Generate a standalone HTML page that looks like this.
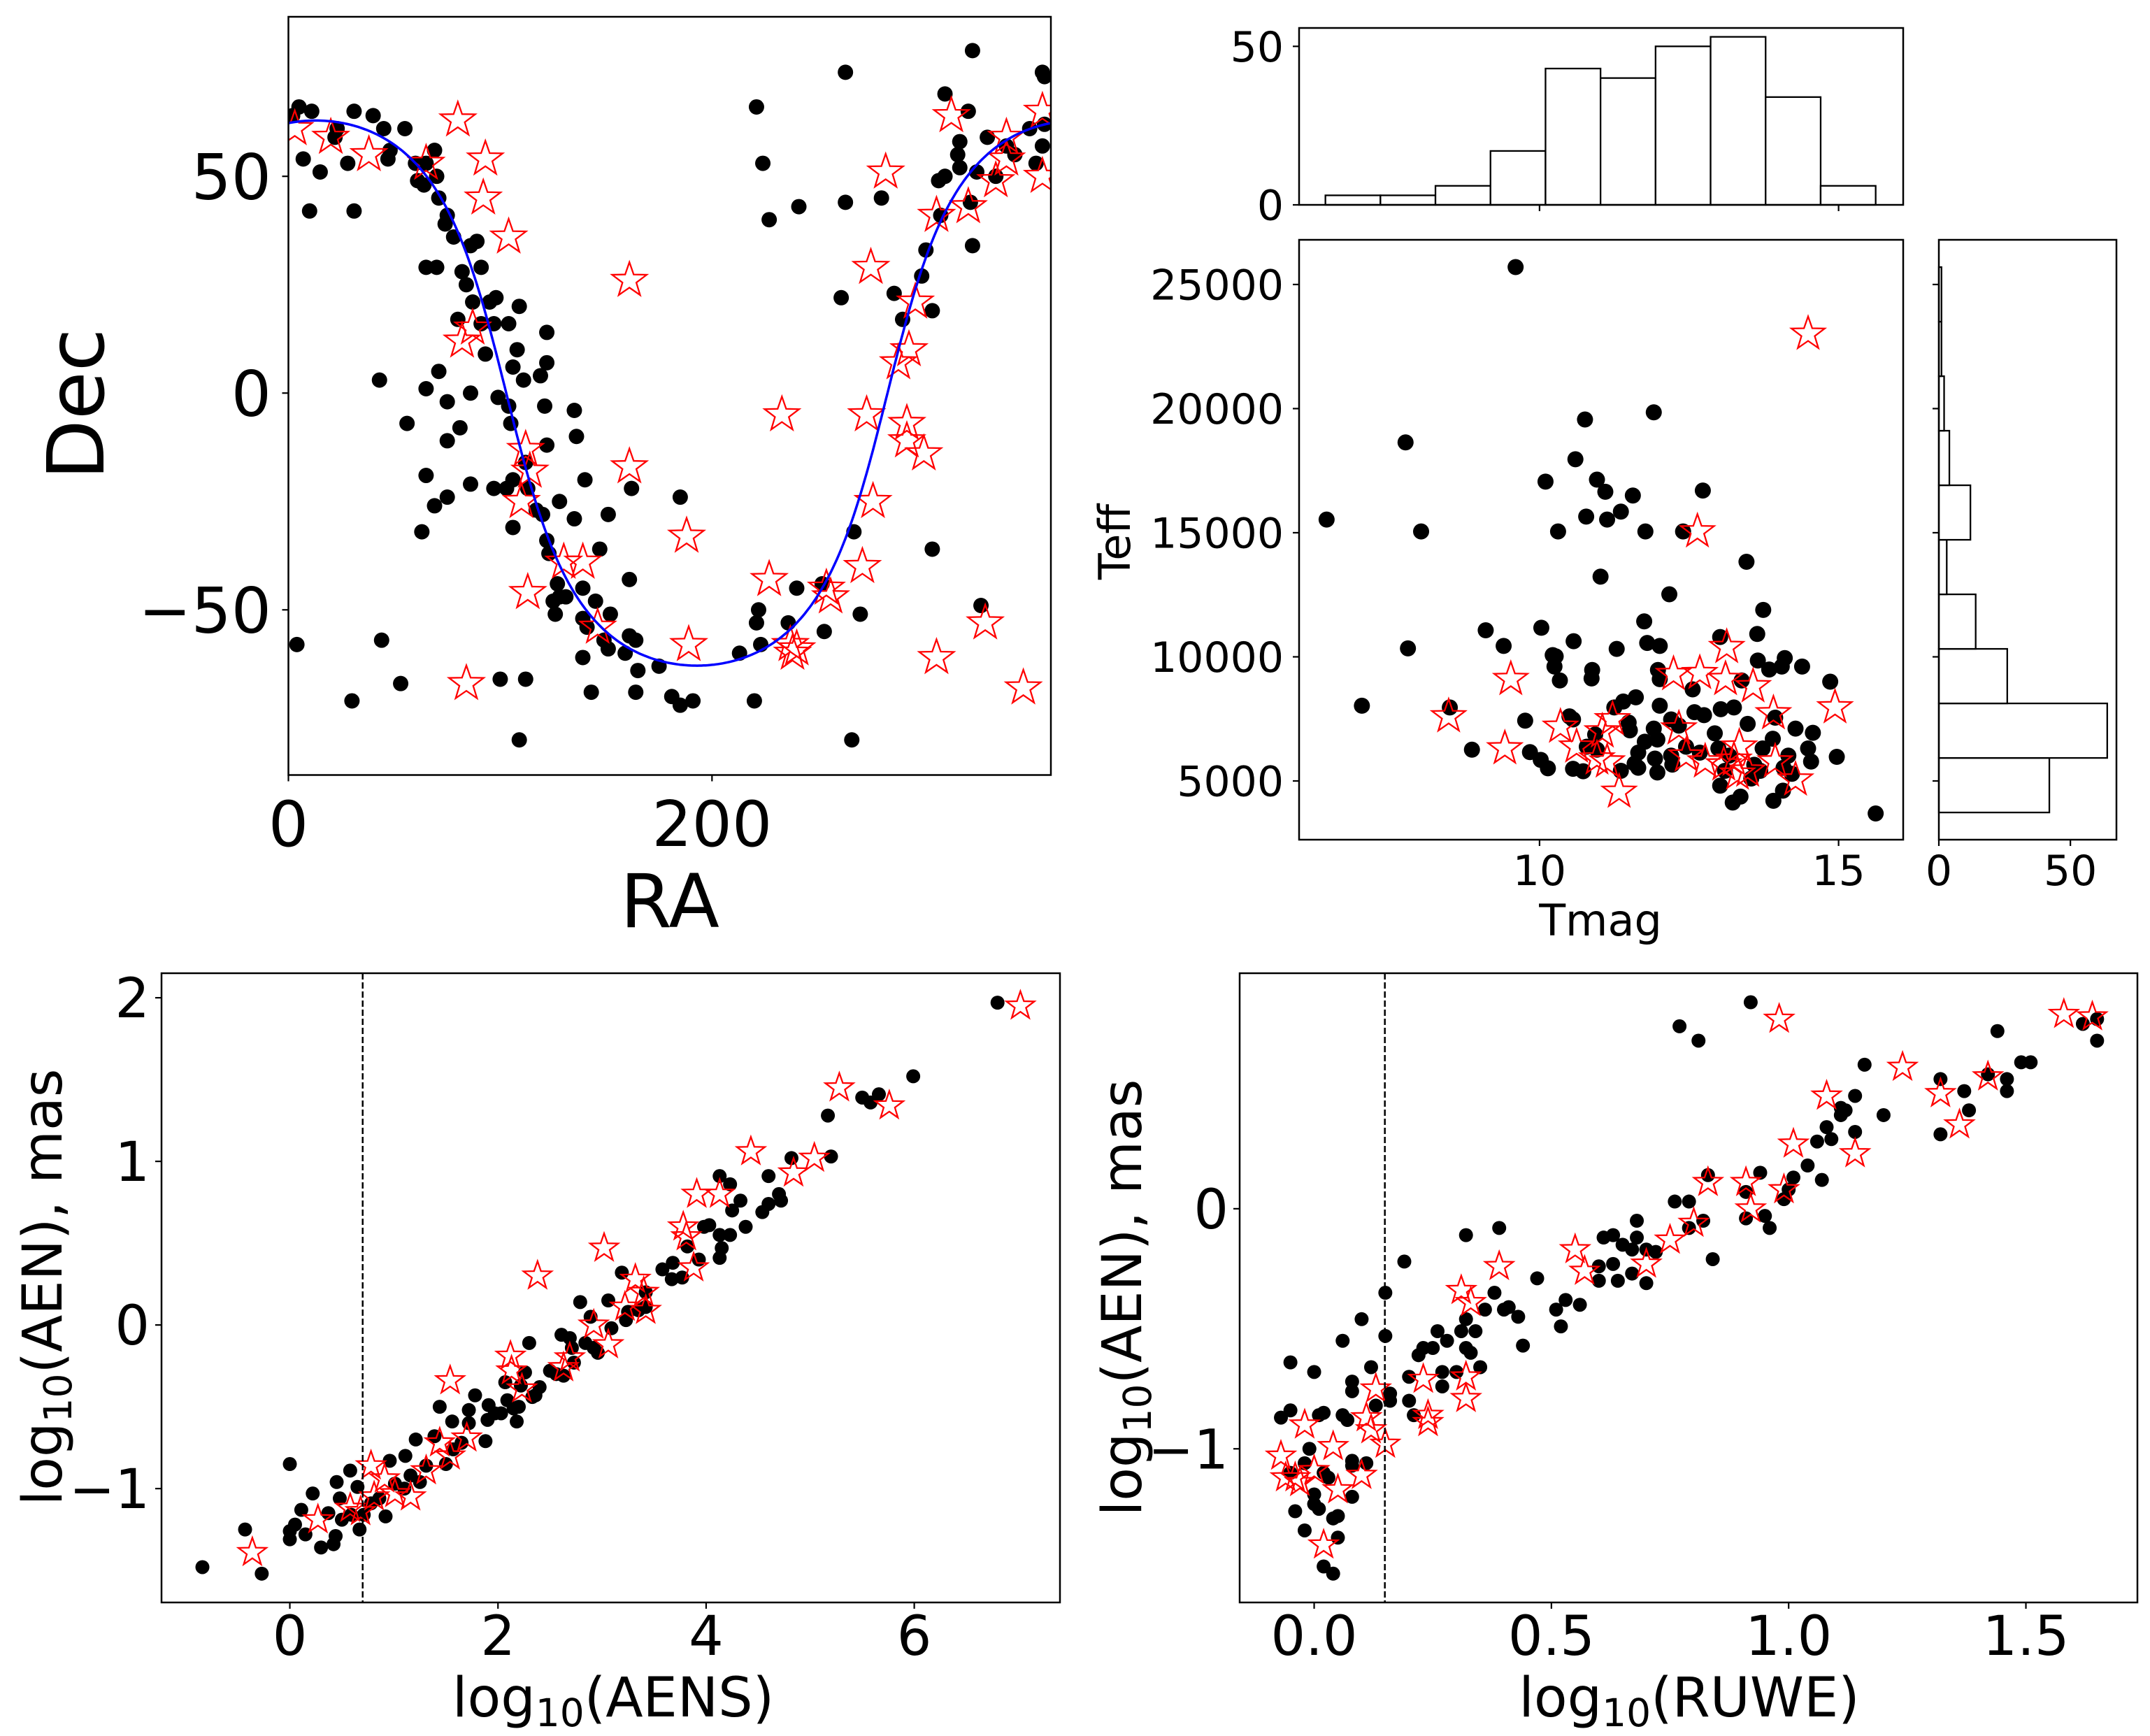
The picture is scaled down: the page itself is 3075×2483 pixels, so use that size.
<!DOCTYPE html>
<html><head><meta charset="utf-8"><style>
html,body{margin:0;padding:0;background:#fff;}
svg{display:block;font-family:"DejaVu Sans","Liberation Sans",sans-serif;}
</style></head>
<body>
<svg id="chart" width="3075" height="2483" viewBox="0 0 3075 2483" xmlns="http://www.w3.org/2000/svg">
<rect x="0" y="0" width="3075" height="2483" fill="#fff"/>
</svg>
<script>
// ---------- Panel 1: RA / Dec ----------
const p1BlackRA=[5,2,11,7,10,15,23,22,28,31,31,40,45,47,48,55,60,61,64,65,69,70,71,74,75,78,65,70,82,84,86,89,91,87,95,98,80,91,97,104,109,93,108,106,111,122,119,122,71,65,86,75,99,104,105,81,75,121,122,135,136,56,43,65,86,69,75,97,103,106,112,113,117,120,106,63,128,135,140,162,151,122,123,147,127,128,131,125,126,139,145,161,139,141,152,149,151,159,161,164,165,175,139,143,164,181,185,191,213,220,223,221,222,236,240,252,253,270,267,266,185,221,224,227,241,263,263,280,261,286,290,299,301,304,307,310,308,316,317,317,321,310,323,323,322,325,330,334,339,343,350,353,356,356,357,357,304,327,4,30,44,53,100,112,109];
const p1BlackDec=[66,64,65,54,42,51,61,59,53,65,42,64,61,54,56,61,53,49,48,53,56,50,45,39,41,36,29,29,28,25,34,35,29,21,21,22,17,16,16,16,20,9,10,6,3,7,4,14,5,1,0,-2,-1,-3,-7,-8,-11,-3,-12,-4,-10,-7,3,-19,-21,-26,-24,-22,-22,-20,-16,-22,-27,-28,-31,-32,-25,-29,-20,-22,-28,-34,-37,-36,-44,-47,-47,-48,-51,-45,-48,-43,-52,-54,-51,-57,-59,-60,-56,-57,-64,-63,-61,-69,-69,-70,-72,-71,-60,-71,-58,-53,-50,-53,-45,-44,-55,-51,-32,-80,-24,66,53,40,43,74,44,45,22,23,17,27,33,19,49,50,41,55,58,52,65,69,79,34,44,51,59,50,57,55,61,53,57,74,73,62,-36,-49,-58,-71,-57,-67,-66,-66,-80];
const p1StarRA=[3,20,38,65,80,93,92,104,161,87,82,112,114,110,113,84,130,139,146,161,188,189,233,227,237,240,238,254,256,271,276,273,275,282,296,293,288,292,292,300,306,313,321,334,339,339,356,356,306,329,347];
const p1StarDec=[61,59,55,53,63,54,45,36,26,15,12,-13,-18,-25,-46,-67,-39,-39,-54,-17,-33,-58,-5,-43,-58,-59,-60,-45,-47,-40,-25,-5,29,51,21,10,7,-7,-11,-14,41,64,43,49,59,54,65,50,-61,-53,-68];
const p1XTicks=[0,200];
const p1YTicks=[-50,0,50];
const galPoleRA=192.86, galPoleDec=27.13;

// ---------- Panel 2: Tmag / Teff ----------
const p2BlackTmag=[9.6,6.44,7.03,7.76,8.02,7.8,8.5,8.87,9.1,9.4,9.76,9.84,10.02,10.14,10.03,10.1,10.31,10.22,10.27,10.25,10.34,10.57,10.6,10.76,10.78,10.96,11.1,11.13,11.36,11.56,11.02,10.88,10.87,11.29,10.56,10.56,10.73,10.79,10.93,11.25,11.4,11.61,11.49,11.51,11.65,11.59,11.76,11.91,11.97,11.97,11.93,12.01,11.77,11.91,11.75,11.8,12.01,12.17,11.98,12.01,12.2,12.33,12.2,12.4,12.73,12.56,12.59,12.75,12.68,12.93,12.99,13.03,13.25,13.02,13.46,13.74,13.64,13.65,13.84,14.05,14.1,14.39,13.38,13.48,13.9,13.94,14.28,14.57,14.49,14.54,14.16,14.08,13.73,13.59,13.54,13.36,13.23,13.91,14.07,13.02,13.1,14.86,14.97,15.62,10.5,12.22,12.45,13.17,13.69,14.22,11.36,11.65,10.96];
const p2BlackTeff=[25700,15530,8030,18640,15050,10340,7960,6260,11070,10440,7430,6160,5850,5510,11170,17060,15050,10070,10020,9610,9050,10630,17960,19560,15650,17140,16650,15530,15850,16500,13230,9470,9130,10320,7480,5490,5390,6380,6870,7960,8200,8370,7350,7040,6140,5700,6580,7110,6670,5340,5900,8030,15050,19850,11430,10560,10440,12520,9470,9100,7480,7230,6020,15050,16700,8690,7770,7650,6140,6920,6310,7890,7960,10800,13830,11890,10920,9850,9490,9610,9950,9610,9050,7300,6700,7550,7110,6940,6310,5780,6020,5530,6310,5650,5100,4370,4130,4200,4610,4810,5410,9000,5970,3690,7600,5660,6380,6020,5410,5290,5410,5530,6260];
const p2StarTmag=[14.49,12.64,13.13,9.52,8.48,9.42,10.35,10.62,11.05,11.22,10.96,11.13,11.33,12.24,12.68,13.11,13.57,12.33,12.45,12.77,13.08,13.25,13.34,13.31,13.48,13.91,13.94,14.28,14.94];
const p2StarTeff=[23010,15050,10390,9100,7600,6310,7180,6380,6990,7480,5900,5780,4560,9300,9340,9100,8810,7110,6020,5780,5660,5850,6380,5290,5410,7720,5780,5050,7960];
const p2XTicks=[10,15];
const p2YTicks=[5000,10000,15000,20000,25000];
const tmagBinStart=6.42, tmagBinWidth=0.92;
const tmagCounts=[3,3,6,17,43,40,50,53,34,6];
const teffBinStart=3730, teffBinWidth=2197;
const teffCounts=[42,64,26,14,3,12,4,2,1,1];
const histTopYTicks=[0,50];
const histRightXTicks=[0,50];

// ---------- Panel 3: AENS / AEN ----------
const p3BlackX=[-0.84,-0.27,-0.43,0,0,0,0.05,0.15,0.11,0.22,0.3,0.42,0.44,0.45,0.48,0.37,0.5,0.58,0.59,0.65,0.67,0.71,0.78,0.86,0.92,0.96,1.01,1.1,1.11,1.16,1.21,1.25,1.31,1.39,1.44,1.5,1.56,1.57,1.65,1.72,1.72,1.78,1.88,1.91,1.9,1.97,2.03,2.09,2.07,2.15,2.18,2.2,2.22,2.26,2.3,2.33,2.36,2.4,2.5,2.56,2.61,2.63,2.69,2.71,2.73,2.79,2.84,2.89,2.92,2.96,3.06,3.09,3.19,3.23,3.25,3.35,3.42,3.42,3.58,3.67,3.68,3.77,3.82,3.93,3.98,4.03,4.13,4.15,4.13,4.23,4.13,4.23,4.25,4.33,4.38,4.54,4.6,4.6,4.7,4.72,4.82,5.17,5.2,5.5,5.58,5.66,5.99,6.8];
const p3BlackY=[-1.48,-1.52,-1.25,-0.85,-1.26,-1.31,-1.22,-1.28,-1.13,-1.03,-1.36,-1.34,-1.29,-0.96,-1.06,-1.15,-1.19,-0.89,-1.16,-0.99,-1.25,-1.16,-1.09,-1.06,-1.17,-0.83,-0.97,-1.0,-0.8,-0.92,-0.7,-0.96,-0.86,-0.68,-0.5,-0.85,-0.59,-0.76,-0.72,-0.52,-0.6,-0.43,-0.71,-0.49,-0.58,-0.54,-0.54,-0.46,-0.35,-0.51,-0.59,-0.5,-0.37,-0.29,-0.11,-0.44,-0.43,-0.38,-0.28,-0.3,-0.06,-0.31,-0.08,-0.14,-0.23,0.14,-0.11,0.05,-0.14,-0.17,0.15,-0.02,0.32,0.03,0.08,0.09,0.2,0.11,0.34,0.28,0.38,0.29,0.48,0.4,0.6,0.61,0.55,0.47,0.41,0.55,0.91,0.86,0.7,0.76,0.6,0.69,0.74,0.91,0.8,0.76,1.02,1.28,1.03,1.39,1.36,1.41,1.52,1.97];
const p3StarX=[-0.36,0.27,0.58,0.68,0.78,0.81,0.91,1.01,1.16,1.31,1.44,1.54,1.7,1.54,2.12,2.13,2.23,2.38,2.63,2.69,3.02,2.92,3.06,3.22,3.32,3.4,3.42,3.78,3.81,3.88,3.91,4.13,4.43,4.84,5.04,5.28,5.76,7.02];
const p3StarY=[-1.39,-1.19,-1.12,-1.14,-0.86,-1.05,-0.94,-1.03,-1.05,-0.89,-0.72,-0.8,-0.69,-0.34,-0.19,-0.28,-0.39,0.3,-0.26,-0.2,0.47,0,-0.12,0.11,0.28,0.2,0.09,0.6,0.54,0.35,0.8,0.8,1.06,0.93,1.02,1.45,1.34,1.95];
const p3XTicks=[0,2,4,6];
const p3YTicks=[-1,0,1,2];
const p3Threshold=0.70;

// ---------- Panel 4: RUWE / AEN ----------
const p4BlackX=[-0.07,-0.05,-0.05,-0.05,-0.04,-0.02,0,0,0,0.01,0.01,0.02,0.02,0.04,0.05,0.04,0.05,0.03,-0.01,-0.02,0.02,0.06,0.06,0.07,0.08,0.08,0.08,0.08,0.08,0.1,0.11,0.12,0.13,0.15,0.15,0.16,0.16,0.19,0.2,0.2,0.21,0.22,0.23,0.25,0.26,0.28,0.27,0.27,0.3,0.31,0.32,0.32,0.32,0.33,0.34,0.35,0.36,0.38,0.39,0.4,0.41,0.43,0.44,0.47,0.51,0.52,0.53,0.56,0.6,0.6,0.61,0.63,0.63,0.64,0.65,0.67,0.67,0.68,0.68,0.7,0.7,0.72,0.76,0.79,0.79,0.82,0.84,0.77,0.81,0.92,0.83,0.91,0.91,0.94,0.95,0.96,0.99,1.0,1.01,1.04,1.07,1.06,1.08,1.09,1.11,1.11,1.12,1.14,1.14,1.16,1.2,1.32,1.32,1.37,1.38,1.42,1.44,1.46,1.46,1.49,1.51,1.62,1.65,1.65];
const p4BlackY=[-0.87,-0.64,-0.84,-1.1,-1.26,-1.34,-1.19,-0.68,-1.23,-1.25,-0.86,-0.85,-1.49,-1.52,-1.37,-1.29,-1.28,-1.12,-1.0,-1.06,-1.1,-0.55,-0.86,-0.88,-1.07,-1.2,-1.05,-0.72,-0.76,-0.46,-1.06,-0.66,-0.82,-0.35,-0.53,-0.77,-0.8,-0.22,-0.7,-0.8,-0.86,-0.61,-0.58,-0.58,-0.51,-0.55,-0.68,-0.74,-0.68,-0.51,-0.11,-0.58,-0.46,-0.6,-0.51,-0.66,-0.42,-0.35,-0.08,-0.42,-0.41,-0.45,-0.57,-0.29,-0.42,-0.49,-0.38,-0.4,-0.24,-0.3,-0.12,-0.23,-0.11,-0.3,-0.15,-0.17,-0.27,-0.05,-0.12,-0.17,-0.31,-0.18,0.03,0.03,-0.08,-0.05,-0.21,0.76,0.7,0.86,0.14,0.07,-0.04,0.15,-0.03,-0.08,0.04,0.08,0.13,0.18,0.12,0.28,0.34,0.29,0.42,0.39,0.41,0.47,0.32,0.6,0.39,0.54,0.31,0.49,0.41,0.56,0.74,0.54,0.49,0.61,0.61,0.77,0.79,0.7];
const p4StarX=[-0.07,-0.06,-0.04,-0.02,-0.03,0,0.02,0.04,0.05,0.1,0.11,0.12,0.13,0.15,0.23,0.24,0.24,0.31,0.33,0.32,0.32,0.39,0.55,0.57,0.7,0.75,0.8,0.83,0.91,0.92,0.99,1.01,0.98,1.08,1.14,1.24,1.32,1.36,1.42,1.58,1.64];
const p4StarY=[-1.03,-1.12,-1.12,-0.9,-1.14,-1.09,-1.4,-0.99,-1.17,-1.11,-0.87,-0.92,-0.75,-0.98,-0.71,-0.86,-0.89,-0.34,-0.39,-0.7,-0.79,-0.24,-0.17,-0.26,-0.23,-0.13,-0.06,0.11,0.11,0,0.08,0.27,0.79,0.47,0.23,0.59,0.48,0.35,0.55,0.81,0.8];
const p4XTicks=[0,0.5,1.0,1.5];
const p4XTickLabels=["0.0","0.5","1.0","1.5"];
const p4YTicks=[-1,0];
const p4Threshold=0.149;

// ---------- helpers ----------
const NS="http://www.w3.org/2000/svg";
const svg=document.getElementById('chart');
function mk(tag,parent){const e=document.createElementNS(NS,tag);(parent||svg).appendChild(e);return e;}
function axis(px0,px1,py0,py1,xmin,xmax,ymin,ymax){
  return {x:v=>px0+(v-xmin)/(xmax-xmin)*(px1-px0), y:v=>py1-(v-ymin)/(ymax-ymin)*(py1-py0), px0,px1,py0,py1};
}
function fmt(v){return (v<0?"\u2212":"")+Math.abs(v);}
function frame(ax,g){
  const r=mk('rect',g);
  
  
  r.setAttribute('x',ax.px0);r.setAttribute('y',ax.py0);
  r.setAttribute('width',ax.px1-ax.px0);r.setAttribute('height',ax.py1-ax.py0);
  r.setAttribute('fill','none');r.setAttribute('stroke','#000');r.setAttribute('stroke-width','2.5');
}
function xTicks(ax,g,vals,labels,fs,baseline){
  vals.forEach((v,i)=>{
    const X=ax.x(v);
    const t=mk('line',g);
    
    
    t.setAttribute('x1',X);t.setAttribute('x2',X);t.setAttribute('y1',ax.py1);t.setAttribute('y2',ax.py1+9);
    t.setAttribute('stroke','#000');t.setAttribute('stroke-width','2.2');
    if(labels){
      const s=mk('text',g);
      
      
      s.setAttribute('x',X);s.setAttribute('y',baseline);s.setAttribute('text-anchor','middle');s.setAttribute('font-size',fs);
      s.textContent=labels[i];
    }
  });
}
function yTicks(ax,g,vals,labels,fs,rightEdge){
  vals.forEach((v,i)=>{
    const Y=ax.y(v);
    const t=mk('line',g);
    
    
    t.setAttribute('x1',ax.px0-9);t.setAttribute('x2',ax.px0);t.setAttribute('y1',Y);t.setAttribute('y2',Y);
    t.setAttribute('stroke','#000');t.setAttribute('stroke-width','2.2');
    if(labels){
      const s=mk('text',g);
      
      
      s.setAttribute('x',rightEdge);s.setAttribute('y',Y+fs*0.36);s.setAttribute('text-anchor','end');s.setAttribute('font-size',fs);
      s.textContent=labels[i];
    }
  });
}
function dots(ax,g,xs,ys,r){
  xs.forEach((v,i)=>{
    const c=mk('circle',g);
    
    
    c.setAttribute('cx',ax.x(v));c.setAttribute('cy',ax.y(ys[i]));c.setAttribute('r',r);c.setAttribute('fill','#000');
  });
}
function starPts(cx,cy,R){
  const ri=R*0.4;let p=[];
  for(let k=0;k<10;k++){const a=-Math.PI/2+k*Math.PI/5;const rr=k%2?ri:R;p.push((cx+rr*Math.cos(a)).toFixed(1)+','+(cy+rr*Math.sin(a)).toFixed(1));}
  return p.join(' ');
}
function stars(ax,g,xs,ys,R){
  xs.forEach((v,i)=>{
    const s=mk('polygon',g);
    
    
    s.setAttribute('points',starPts(ax.x(v),ax.y(ys[i]),R));
    s.setAttribute('fill','none');s.setAttribute('stroke','#ff0000');s.setAttribute('stroke-width','2.3');s.setAttribute('stroke-linejoin','miter');
  });
}
function clip(ax,id){
  const cp=mk('clipPath');cp.setAttribute('id',id);
  const r=mk('rect',cp);r.setAttribute('x',ax.px0);r.setAttribute('y',ax.py0);r.setAttribute('width',ax.px1-ax.px0);r.setAttribute('height',ax.py1-ax.py0);
}

// ---------- Panel 1 ----------
const g1=mk('g');


const a1=axis(412.5,1503,24,1108.5,0,360,-88.1,86.8);
clip(a1,'c1');
const g1d=mk('g',g1);g1d.setAttribute('clip-path','url(#c1)');
dots(a1,g1d,p1BlackRA,p1BlackDec,11);
stars(a1,g1d,p1StarRA,p1StarDec,26);
(function(){
  let d='';
  for(let ra=0;ra<=360;ra+=1){
    const dec=Math.atan(-Math.cos((ra-galPoleRA)*Math.PI/180)/Math.tan(galPoleDec*Math.PI/180))*180/Math.PI;
    d+=(ra?'L':'M')+a1.x(ra).toFixed(1)+','+a1.y(dec).toFixed(1);
  }
  const p=mk('path',g1d);
  
  
  p.setAttribute('d',d);p.setAttribute('fill','none');p.setAttribute('stroke','#0000ff');p.setAttribute('stroke-width','3.5');
})();
frame(a1,g1);
xTicks(a1,g1,p1XTicks,p1XTicks.map(fmt),90,1210);
yTicks(a1,g1,p1YTicks,p1YTicks.map(fmt),90,388);
// ---------- Panel 2 ----------
const g2=mk('g');


const a2=axis(1858,2722,343,1201,5.98,16.08,2634,26800);
clip(a2,'c2');
const g2d=mk('g',g2);g2d.setAttribute('clip-path','url(#c2)');
dots(a2,g2d,p2BlackTmag,p2BlackTeff,11.5);
stars(a2,g2d,p2StarTmag,p2StarTeff,25);
frame(a2,g2);
xTicks(a2,g2,p2XTicks,p2XTicks.map(String),60,1266);
yTicks(a2,g2,p2YTicks,p2YTicks.map(String),60,1836);
// top histogram
const g2t=mk('g');


const a2t=axis(1858,2722,40,293,5.98,16.08,0,55.8);
tmagCounts.forEach((c,i)=>{
  const x0=a2t.x(tmagBinStart+i*tmagBinWidth),x1=a2t.x(tmagBinStart+(i+1)*tmagBinWidth);
  const r=mk('rect',g2t);
  
  
  r.setAttribute('x',x0);r.setAttribute('y',a2t.y(c));r.setAttribute('width',x1-x0);r.setAttribute('height',a2t.y(0)-a2t.y(c));
  r.setAttribute('fill','#fff');r.setAttribute('stroke','#000');r.setAttribute('stroke-width','2.3');
});
frame(a2t,g2t);
xTicks(a2t,g2t,p2XTicks,null);
yTicks(a2t,g2t,histTopYTicks,histTopYTicks.map(String),60,1836);
// right histogram
const g2r=mk('g');


const a2r=axis(2773,3027,343,1201,0,67.5,2634,26800);
teffCounts.forEach((c,i)=>{
  const y0=a2r.y(teffBinStart+(i+1)*teffBinWidth),y1=a2r.y(teffBinStart+i*teffBinWidth);
  const r=mk('rect',g2r);
  
  
  r.setAttribute('x',a2r.x(0));r.setAttribute('y',y0);r.setAttribute('width',a2r.x(c)-a2r.x(0));r.setAttribute('height',y1-y0);
  r.setAttribute('fill','#fff');r.setAttribute('stroke','#000');r.setAttribute('stroke-width','2.3');
});
frame(a2r,g2r);
xTicks(a2r,g2r,histRightXTicks,histRightXTicks.map(String),60,1266);
yTicks(a2r,g2r,p2YTicks,null);
// ---------- Panel 3 ----------
const g3=mk('g');


const a3=axis(231,1516,1392,2292,-1.233,7.40,-1.696,2.15);
clip(a3,'c3');
const g3d=mk('g',g3);g3d.setAttribute('clip-path','url(#c3)');
dots(a3,g3d,p3BlackX,p3BlackY,10);
stars(a3,g3d,p3StarX,p3StarY,21);
const v3=mk('line',g3d);


v3.setAttribute('x1',a3.x(p3Threshold));v3.setAttribute('x2',a3.x(p3Threshold));v3.setAttribute('y1',1392);v3.setAttribute('y2',2292);
v3.setAttribute('stroke','#000');v3.setAttribute('stroke-width','2.5');v3.setAttribute('stroke-dasharray','9,4');
frame(a3,g3);
xTicks(a3,g3,p3XTicks,p3XTicks.map(fmt),78,2367);
yTicks(a3,g3,p3YTicks,p3YTicks.map(fmt),78,214);
// ---------- Panel 4 ----------
const g4=mk('g');


const a4=axis(1773,3057,1392,2292,-0.157,1.735,-1.64,0.981);
clip(a4,'c4');
const g4d=mk('g',g4);g4d.setAttribute('clip-path','url(#c4)');
dots(a4,g4d,p4BlackX,p4BlackY,10);
stars(a4,g4d,p4StarX,p4StarY,21);
const v4=mk('line',g4d);


v4.setAttribute('x1',a4.x(p4Threshold));v4.setAttribute('x2',a4.x(p4Threshold));v4.setAttribute('y1',1392);v4.setAttribute('y2',2292);
v4.setAttribute('stroke','#000');v4.setAttribute('stroke-width','2.5');v4.setAttribute('stroke-dasharray','9,4');
frame(a4,g4);
xTicks(a4,g4,p4XTicks,p4XTickLabels,78,2367);
yTicks(a4,g4,p4YTicks,p4YTicks.map(fmt),78,1757);
</script>
<svg style="position:absolute;left:0;top:0;pointer-events:none" width="3075" height="2483" xmlns="http://www.w3.org/2000/svg" font-family="DejaVu Sans, Liberation Sans, sans-serif">
<text x="0" y="0" font-size="112" text-anchor="middle" transform="translate(148,578) rotate(-90)">Dec</text>
<text x="958" y="1326" font-size="106" text-anchor="middle">RA</text>
<text x="0" y="0" font-size="62" text-anchor="middle" transform="translate(1616,775) rotate(-90)">Teff</text>
<text x="2289" y="1338" font-size="62" text-anchor="middle">Tmag</text>
<text x="0" y="0" font-size="78" text-anchor="middle" transform="translate(88,1841) rotate(-90)">log<tspan font-size="55" dy="14">10</tspan><tspan dy="-14">(AEN),  mas</tspan></text>
<text x="877" y="2455" font-size="78" text-anchor="middle">log<tspan font-size="55" dy="14">10</tspan><tspan dy="-14">(AENS)</tspan></text>
<text x="0" y="0" font-size="78" text-anchor="middle" transform="translate(1632,1856) rotate(-90)">log<tspan font-size="55" dy="14">10</tspan><tspan dy="-14">(AEN),  mas</tspan></text>
<text x="2416" y="2455" font-size="78" text-anchor="middle">log<tspan font-size="55" dy="14">10</tspan><tspan dy="-14">(RUWE)</tspan></text>
</svg>
</body></html>
